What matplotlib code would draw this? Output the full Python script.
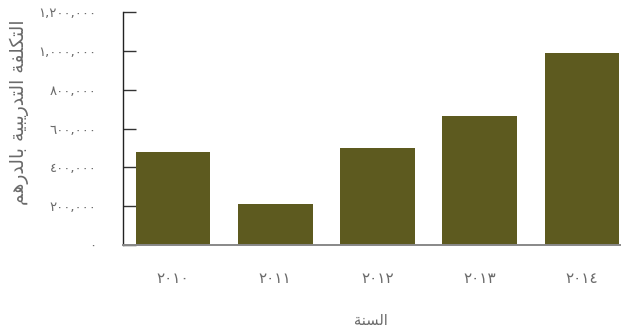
import matplotlib
matplotlib.use("Agg")
import matplotlib.pyplot as plt

# ---- data ----
years = ["٢٠١٠", "٢٠١١", "٢٠١٢", "٢٠١٣", "٢٠١٤"]
costs = [480000, 210000, 500000, 665000, 990000]
ytick_values = [0, 200000, 400000, 600000, 800000, 1000000, 1200000]
ytick_labels = ["٠", "٢٠٠,٠٠٠", "٤٠٠,٠٠٠", "٦٠٠,٠٠٠", "٨٠٠,٠٠٠", "١,٠٠٠,٠٠٠", "١,٢٠٠,٠٠٠"]
xlabel_text = "السنة"
ylabel_text = "التكلفة التدريبية بالدرهم"

# ---- minimal Arabic shaping (matplotlib has no bidi/shaping) ----
FORMS = {  # isolated, final, initial, medial
    "ا": (0xFE8D, 0xFE8E, None, None),
    "ب": (0xFE8F, 0xFE90, 0xFE91, 0xFE92),
    "ة": (0xFE93, 0xFE94, None, None),
    "ت": (0xFE95, 0xFE96, 0xFE97, 0xFE98),
    "د": (0xFEA9, 0xFEAA, None, None),
    "ر": (0xFEAD, 0xFEAE, None, None),
    "س": (0xFEB1, 0xFEB2, 0xFEB3, 0xFEB4),
    "ف": (0xFED1, 0xFED2, 0xFED3, 0xFED4),
    "ك": (0xFED9, 0xFEDA, 0xFEDB, 0xFEDC),
    "ل": (0xFEDD, 0xFEDE, 0xFEDF, 0xFEE0),
    "م": (0xFEE1, 0xFEE2, 0xFEE3, 0xFEE4),
    "ن": (0xFEE5, 0xFEE6, 0xFEE7, 0xFEE8),
    "ه": (0xFEE9, 0xFEEA, 0xFEEB, 0xFEEC),
    "ي": (0xFEF1, 0xFEF2, 0xFEF3, 0xFEF4),
}


def shape(text):
    out = []
    n = len(text)
    for i, ch in enumerate(text):
        if ch not in FORMS:
            out.append(ch)
            continue
        prev = text[i - 1] if i > 0 else None
        nxt = text[i + 1] if i < n - 1 else None
        dual = FORMS[ch][2] is not None
        jp = prev in FORMS and FORMS[prev][2] is not None
        jn = dual and nxt in FORMS
        if jp and jn:
            cp = FORMS[ch][3]
        elif jp:
            cp = FORMS[ch][1]
        elif jn:
            cp = FORMS[ch][2]
        else:
            cp = FORMS[ch][0]
        out.append(chr(cp))
    return "".join(out)[::-1]


plt.rcParams["font.family"] = ["DejaVu Sans"]
text_color = "#6a6a6a"
bar_color = "#5d5a1f"

fig = plt.figure(figsize=(6.21, 3.27), dpi=100)
ax = fig.add_axes([0.198, 0.251, 0.800, 0.712])

x = list(range(len(years)))
ax.bar(x, costs, width=0.73, color=bar_color, zorder=2)

ax.set_xlim(-0.49, 4.37)
ax.set_ylim(0, 1200000)
ax.set_xticks(x)
ax.set_xticklabels(years)
ax.set_yticks(ytick_values)
ax.set_yticklabels(ytick_labels)

for s in ["top", "right"]:
    ax.spines[s].set_visible(False)
ax.spines["left"].set_color("#222222")
ax.spines["left"].set_linewidth(1.0)
ax.spines["bottom"].set_color("#888888")
ax.spines["bottom"].set_linewidth(1.4)

ax.tick_params(axis="y", direction="in", length=9, width=1.0, color="#333333",
               pad=19, labelsize=9.5, labelcolor=text_color)
ax.tick_params(axis="x", length=0, pad=19, labelsize=11, labelcolor=text_color)

ax.set_xlabel(shape(xlabel_text), fontsize=10.5, color=text_color, labelpad=19)
ax.set_ylabel(shape(ylabel_text), fontsize=13.5, color=text_color)
ax.yaxis.set_label_coords(-0.19, 0.57)

fig.savefig("out.png", dpi=100)
